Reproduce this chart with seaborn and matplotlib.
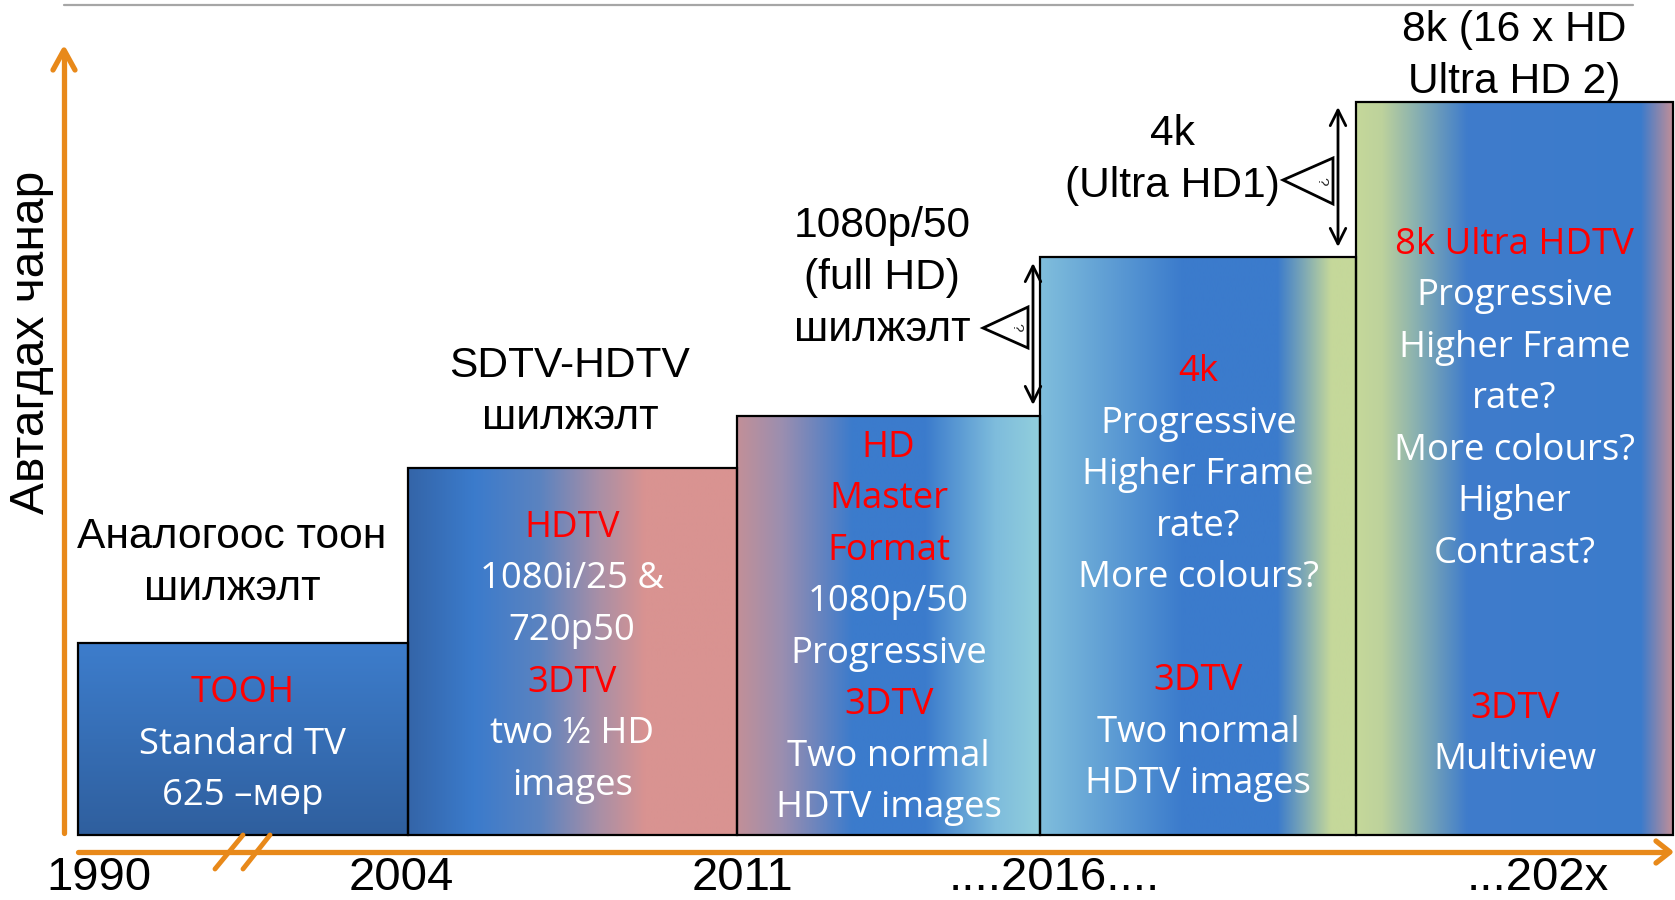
import numpy as np
import pandas as pd
import matplotlib
matplotlib.use("Agg")
import matplotlib.pyplot as plt
import seaborn as sns
from matplotlib.colors import LinearSegmentedColormap
from matplotlib.patches import Polygon

# -----------------------
# Data
# -----------------------
eras = ["1990", "2004", "2011", "2016", "202x"]
era_edges = [0.0, 1.0, 2.0, 2.92, 3.88, 4.84]   # timeline span of each stage
quality = [1.0, 1.91, 2.18, 3.01, 3.82]          # relative picture quality
year_labels = ["1990", "2004", "2011", "....2016....", "...202x"]

box_lines = [
    ["ТООН", "Standard TV", "625 –мөр"],
    ["HDTV", "1080i/25 &", "720p50", "3DTV", "two ½ HD", "images"],
    ["HD", "Master", "Format", "1080p/50", "Progressive", "3DTV", "Two normal", "HDTV images"],
    ["4k", "Progressive", "Higher Frame", "rate?", "More colours?", "", "3DTV", "Two normal", "HDTV images"],
    ["8k Ultra HDTV", "Progressive", "Higher Frame", "rate?", "More colours?", "Higher",
     "Contrast?", "", "", "3DTV", "Multiview"],
]
red_lines = [[0], [0, 3], [0, 1, 2, 5], [0, 6], [0, 9]]

transitions = [
    ["Аналогоос тоон", "шилжэлт"],
    ["SDTV-HDTV", "шилжэлт"],
    ["1080p/50", "(full HD)", "шилжэлт"],
    ["4k", "(Ultra HD1)"],
    ["8k (16 x HD", "Ultra HD 2)"],
]

# colour stops for each box fill (box 1 runs top -> bottom, others left -> right)
box_stops = [
    [(0.0, "#3d7dcc"), (1.0, "#2f5f9e")],
    [(0.0, "#3465a8"), (0.2, "#3b7bcc"), (0.4, "#5b83c0"), (0.58, "#a98fa6"), (0.72, "#d99391"), (1.0, "#d99391")],
    [(0.0, "#c29098"), (0.15, "#9a8eb0"), (0.38, "#3b7bcc"), (0.62, "#3b7bcc"), (0.85, "#7ebcdc"), (1.0, "#92cfdc")],
    [(0.0, "#80bedc"), (0.45, "#3b7bcc"), (0.75, "#3b7bcc"), (0.83, "#7aa6b6"), (0.92, "#c5d89a"), (1.0, "#c5d89a")],
    [(0.0, "#c5d89a"), (0.08, "#bdd29c"), (0.22, "#7ba7b6"), (0.35, "#3f7ccb"), (0.9, "#3b7bcc"), (1.0, "#c08e98")],
]

ORANGE = "#e8891a"
BOX_FONT = ["Open Sans", "DejaVu Sans"]
LBL_FONT = ["Liberation Sans", "DejaVu Sans"]


# pixel -> data helper (axes spans the whole figure)
def px(x, y):
    return (x - 78) / 329.5, (835 - y) / 192.0


sns.set_theme(style="white")
plt.rcParams['font.family'] = BOX_FONT

fig = plt.figure(figsize=(16.75, 9), dpi=100)
ax = fig.add_axes([0, 0, 1, 1])

df = pd.DataFrame({
    "mid": [(a + b) / 2 for a, b in zip(era_edges[:-1], era_edges[1:])],
    "quality": quality,
})
sns.histplot(data=df, x="mid", weights="quality", bins=era_edges, stat="count",
             element="bars", fill=True, color="#3b7bcc", edgecolor="black",
             linewidth=1.6, alpha=1, ax=ax)

x0, y0 = px(0, 900)
x1, y1 = px(1675, 0)
ax.set_xlim(x0, x1)
ax.set_ylim(y0, y1)
ax.set_axis_off()

# gradient fills clipped to bars
for i, patch in enumerate(ax.patches[:len(quality)]):
    bx, by = patch.get_x(), patch.get_y()
    bw, bh = patch.get_width(), patch.get_height()
    cmap = LinearSegmentedColormap.from_list(f"b{i}", box_stops[i])
    g = np.linspace(0, 1, 256)
    arr = (1 - g)[:, None] if i == 0 else g[None, :]
    im = ax.imshow(arr, cmap=cmap, vmin=0, vmax=1, extent=(bx, bx + bw, by, by + bh),
                   origin="lower", aspect="auto", zorder=1, interpolation="bilinear")
    im.set_clip_path(patch)
    patch.set_facecolor("none")
    patch.set_zorder(2)

# text inside boxes
first_y = [693, 528, 448, 372, 245]
step = 51.5
for i, lines in enumerate(box_lines):
    cx = (era_edges[i] + era_edges[i + 1]) / 2
    for j, t in enumerate(lines):
        if not t:
            continue
        _, ty = px(0, first_y[i] + j * step)
        col = "#ff0000" if j in red_lines[i] else "white"
        ax.text(cx, ty, t, color=col, fontsize=26.3, ha="center", va="center",
                family=BOX_FONT, zorder=5)

# transition labels
lbl_pos = [(232, 537), (570, 366), (882, 226), (1172, 134), (1514, 30)]
for (lx, ly), lines in zip(lbl_pos, transitions):
    for j, t in enumerate(lines):
        tx, ty = px(lx, ly + j * 52)
        ax.text(tx, ty, t, color="black", fontsize=30.6, ha="center", va="center",
                family=LBL_FONT, zorder=5)

# year labels
year_x = [99, 401, 742, 1054, 1538]
for yx, t in zip(year_x, year_labels):
    tx, ty = px(yx, 878)
    ax.text(tx, ty, t, color="black", fontsize=34, ha="center", va="center",
            family=LBL_FONT, zorder=5)

# y axis label
tx, ty = px(32, 342)
ax.text(tx, ty, "Автагдах чанар", rotation=90, fontsize=34.5, ha="center", va="center",
        family=LBL_FONT, color="black")


# orange axes
def line(pts, **kw):
    xs, ys = zip(*[px(a, b) for a, b in pts])
    ax.plot(xs, ys, **kw)


okw = dict(color=ORANGE, lw=3.8, solid_capstyle="round", zorder=4)
line([(64, 833), (64, 52)], **okw)
line([(53, 70), (64, 50), (75, 70)], **okw)
line([(78, 852), (1668, 852)], **okw)
line([(1656, 841), (1670, 852), (1656, 863)], **okw)
line([(215, 869), (243, 835)], color=ORANGE, lw=3.5, zorder=4)
line([(243, 869), (270, 835)], color=ORANGE, lw=3.5, zorder=4)

# gray top rule
line([(64, 5), (1633, 5)], color="#a6a6a6", lw=1.6, zorder=4)

# double arrows with "?" triangles
for axx, ytop, ybot, tip, tri_top, tri_bot in [
        (1033, 263, 405, (983, 328), 307, 348),
        (1338, 107, 247, (1283, 180), 158, 204)]:
    ax.annotate("", xy=px(axx, ytop), xytext=px(axx, ybot),
                arrowprops=dict(arrowstyle="<->", lw=2, color="black", mutation_scale=28,
                                shrinkA=0, shrinkB=0), zorder=6)
    tri = Polygon([px(*tip), px(axx - 5, tri_top), px(axx - 5, tri_bot)], closed=True,
                  facecolor="white", edgecolor="black", lw=2, zorder=6)
    ax.add_patch(tri)
    qx, qy = px(axx - 17, (tri_top + tri_bot) / 2)
    ax.text(qx, qy, "?", rotation=-90, fontsize=11, ha="center", va="center",
            family=LBL_FONT, zorder=7)

fig.savefig("out.png", dpi=100)
